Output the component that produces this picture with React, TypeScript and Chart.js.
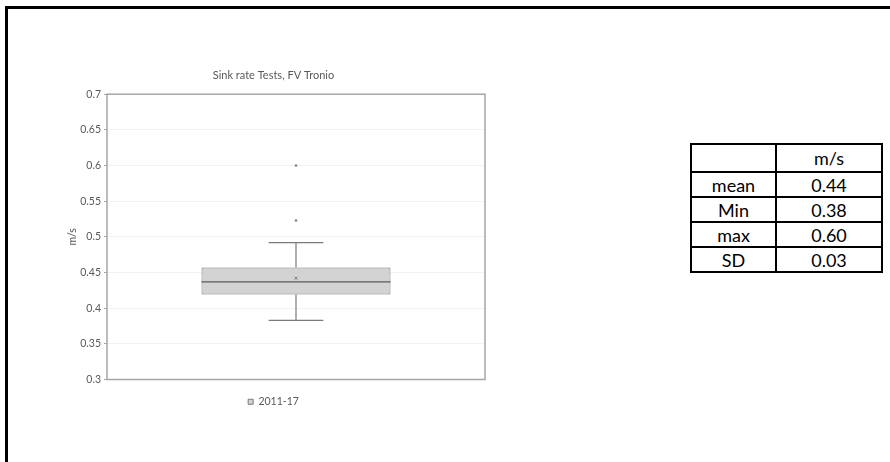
import React, { useEffect, useRef } from "react";
import { Chart, registerables } from "chart.js";

Chart.register(...registerables);

// ---- data ----
const categories = ["2011-17"];
const boxQ1 = [0.419];
const boxQ3 = [0.457];
const medians = [0.437];
const whiskerLow = [0.383];
const whiskerHigh = [0.492];
const means = [0.442];
const outlierValues = [0.523, 0.6];
const yMin = 0.3;
const yMax = 0.7;
const yStep = 0.05;
const chartTitle = "Sink rate Tests, FV Tronio";
const yAxisTitle = "m/s";
const statHeader = "m/s";
const statLabels = ["mean", "Min", "max", "SD"];
const statValues = ["0.44", "0.38", "0.60", "0.03"];

const FONT = "Lato, 'Liberation Sans', sans-serif";
const TEXT_GRAY = "#595959";

const boxPlugin = {
  id: "boxWhiskers",
  beforeDatasetsDraw(chart: any) {
    const { ctx, chartArea } = chart;
    ctx.save();
    ctx.strokeStyle = "#a6a6a6";
    ctx.lineWidth = 1.5;
    ctx.strokeRect(chartArea.left, chartArea.top, chartArea.right - chartArea.left, chartArea.bottom - chartArea.top);
    ctx.restore();
  },
  afterDatasetsDraw(chart: any) {
    const { ctx } = chart;
    const y = chart.scales.y;
    const meta = chart.getDatasetMeta(0);
    meta.data.forEach((bar: any, i: number) => {
      const cx = bar.x;
      const w = bar.width;
      ctx.save();
      // median
      ctx.strokeStyle = "#5a5a5a";
      ctx.lineWidth = 1.2;
      ctx.beginPath();
      ctx.moveTo(cx - w / 2, y.getPixelForValue(medians[i]));
      ctx.lineTo(cx + w / 2, y.getPixelForValue(medians[i]));
      ctx.stroke();
      // whiskers
      ctx.strokeStyle = "#7a7a7a";
      ctx.lineWidth = 1.2;
      const capHalf = w * 0.145;
      ctx.beginPath();
      ctx.moveTo(cx, y.getPixelForValue(boxQ3[i]));
      ctx.lineTo(cx, y.getPixelForValue(whiskerHigh[i]));
      ctx.moveTo(cx - capHalf, y.getPixelForValue(whiskerHigh[i]));
      ctx.lineTo(cx + capHalf, y.getPixelForValue(whiskerHigh[i]));
      ctx.moveTo(cx, y.getPixelForValue(boxQ1[i]));
      ctx.lineTo(cx, y.getPixelForValue(whiskerLow[i]));
      ctx.moveTo(cx - capHalf, y.getPixelForValue(whiskerLow[i]));
      ctx.lineTo(cx + capHalf, y.getPixelForValue(whiskerLow[i]));
      ctx.stroke();
      ctx.restore();
    });
  },
};

function BoxChart() {
  const ref = useRef<HTMLCanvasElement | null>(null);
  useEffect(() => {
    if (!ref.current) return;
    const chart = new Chart(ref.current, {
      data: {
        labels: categories,
        datasets: [
          {
            type: "bar",
            label: categories[0],
            data: categories.map((_, i) => [boxQ1[i], boxQ3[i]]),
            backgroundColor: "#d3d3d3",
            borderColor: "#7a7a7a",
            borderWidth: 1,
            borderSkipped: false,
            barPercentage: 0.5,
            categoryPercentage: 1,
            order: 2,
          } as any,
          {
            type: "line",
            label: "mean",
            data: categories.map((c, i) => ({ x: c, y: means[i] })),
            showLine: false,
            pointStyle: "crossRot",
            pointRadius: 2,
            borderColor: "#777777",
            borderWidth: 1,
            order: 1,
          } as any,
          {
            type: "line",
            label: "outliers",
            data: outlierValues.map((v) => ({ x: categories[0], y: v })),
            showLine: false,
            pointStyle: "circle",
            pointRadius: 1,
            backgroundColor: "#777777",
            borderColor: "#777777",
            borderWidth: 0.5,
            order: 1,
          } as any,
        ],
      },
      options: {
        animation: false,
        responsive: true,
        maintainAspectRatio: false,
        layout: { padding: { left: 0, right: 3, top: 0, bottom: 0 } },
        plugins: {
          tooltip: { enabled: false },
          title: {
            display: true,
            text: chartTitle,
            color: TEXT_GRAY,
            font: { family: FONT, size: 11, weight: "normal" },
            padding: { top: 7, bottom: 12 },
          },
          legend: {
            position: "bottom",
            labels: {
              filter: (item: any) => item.datasetIndex === 0,
              boxWidth: 5,
              boxHeight: 5,
              padding: 10,
              color: TEXT_GRAY,
              font: { family: FONT, size: 10.5 },
            },
          },
        },
        scales: {
          x: {
            type: "category",
            offset: true,
            ticks: { display: false },
            grid: { display: false, drawTicks: false },
            border: { display: false },
            afterFit: (scale: any) => {
              scale.height = 7;
            },
          },
          y: {
            min: yMin,
            max: yMax,
            ticks: {
              stepSize: yStep,
              color: TEXT_GRAY,
              padding: 3,
              font: { family: FONT, size: 10.5 },
              callback: (v: any) => String(+Number(v).toFixed(2)),
            },
            grid: { color: "#f2f2f2", tickColor: "#a6a6a6", tickLength: 3 },
            border: { display: false },
            title: {
              display: true,
              text: yAxisTitle,
              color: TEXT_GRAY,
              font: { family: FONT, size: 10.5 },
              padding: { top: 6, bottom: 0 },
            },
            afterFit: (scale: any) => {
              scale.width = 47;
            },
          },
        },
      },
      plugins: [boxPlugin],
    });
    return () => chart.destroy();
  }, []);
  return <canvas ref={ref} />;
}

export default function App() {
  const cell: React.CSSProperties = {
    border: "2px solid #000",
    textAlign: "center",
    padding: 0,
    height: 23,
    fontFamily: FONT,
    fontSize: 18,
    color: "#000",
  };
  return (
    <div style={{ position: "absolute", left: 0, top: 0, width: 890, height: 462, overflow: "hidden", background: "#fff" }}>
      <div
        style={{
          position: "absolute",
          left: 5,
          top: 6,
          width: 1000,
          height: 1000,
          border: "3px solid #000",
        }}
      />
      <div style={{ position: "absolute", left: 60, top: 62, width: 430, height: 355 }}>
        <BoxChart />
      </div>
      <table
        style={{
          position: "absolute",
          left: 690,
          top: 143,
          borderCollapse: "collapse",
          width: 193,
        }}
      >
        <tbody>
          <tr>
            <td style={{ ...cell, width: 83, height: 26 }}></td>
            <td style={cell}>{statHeader}</td>
          </tr>
          {statLabels.map((l, i) => (
            <tr key={l}>
              <td style={cell}>{l}</td>
              <td style={cell}>{statValues[i]}</td>
            </tr>
          ))}
        </tbody>
      </table>
    </div>
  );
}
